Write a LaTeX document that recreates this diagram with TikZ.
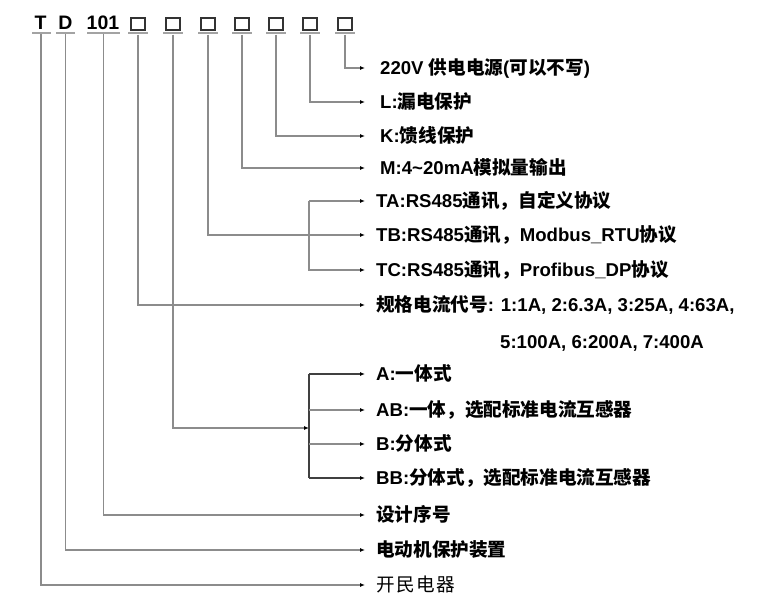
\documentclass[tikz,border=0pt]{standalone}
\usepackage{fontspec}
\setmainfont{Liberation Sans}
\newfontfamily\cjk{Noto Sans CJK SC}
\usetikzlibrary{arrows.meta}
\definecolor{linegray}{HTML}{8C8C8C}
\definecolor{darkline}{HTML}{404040}
\definecolor{boxgray}{HTML}{333333}
\newcommand\C[1]{{\cjk #1}}
\tikzset{
 conn/.style={draw=linegray, line width=1.1pt},
 arr/.style={conn, -{Latex[length=5pt,width=4pt,color=black]}},
 lbl/.style={anchor=west, inner ysep=0pt, inner xsep=11pt, text height=13pt, text depth=0pt, font=\bfseries\fontsize{18.6}{20}\selectfont},
 lblfar/.style={lbl, inner xsep=15pt},
 title/.style={anchor=base, inner sep=0pt, font=\bfseries\fontsize{19.5}{22}\selectfont},
 sq/.style={draw=boxgray, line width=1.8pt, minimum width=14.5pt, minimum height=11.5pt, inner sep=0pt},
 uline/.style={fill=linegray!80, inner sep=0pt, minimum height=2pt}
}
\begin{document}
\begin{tikzpicture}[x=1pt,y=-1pt]
\useasboundingbox (0,0) rectangle (763,609);
% header
\node[title] (tT) at (40.5,29.5) {T};
\node[title] (tD) at (65.5,29.5) {D};
\node[title] (t101) at (103,29.5) {101};
\node[uline, minimum width=19pt] (uT) at (41,33) {};
\node[uline, minimum width=19pt] (uD) at (65.5,33) {};
\node[uline, minimum width=33pt] (uL) at (103.5,33) {};
\foreach \i/\x in {1/138,2/173,3/208,4/242,5/276,6/310,7/345}{
  \node[sq] (b\i) at (\x,24) {};
  \node[uline, minimum width=20pt] (u\i) at (\x,33.5) {};
}
% labels
\node[lblfar] (r1) at (365,68) {220V \C{供电电源}(\C{可以不写})};
\node[lblfar] (r2) at (365,102) {L:\C{漏电保护}};
\node[lblfar] (r3) at (365,136) {K:\C{馈线保护}};
\node[lblfar] (r4) at (365,168) {M:4\textasciitilde 20mA\C{模拟量输出}};
\node[lbl] (r5) at (365,201) {TA:RS485\C{通讯，自定义协议}};
\node[lbl] (r6) at (365,235) {TB:RS485\C{通讯，}Modbus\_RTU\C{协议}};
\node[lbl] (r7) at (365,270) {TC:RS485\C{通讯，}Profibus\_DP\C{协议}};
\node[lbl] (r8) at (365,305) {\C{规格电流代号}: 1:1A, 2:6.3A, 3:25A, 4:63A,};
\node[lbl, inner xsep=0pt] (r8b) at (500,342) {5:100A, 6:200A, 7:400A};
\node[lbl] (r9) at (365,374) {A:\C{一体式}};
\node[lbl] (r10) at (365,410) {AB:\C{一体，选配标准电流互感器}};
\node[lbl] (r11) at (365,444) {B:\C{分体式}};
\node[lbl] (r12) at (365,478) {BB:\C{分体式，选配标准电流互感器}};
\node[lbl] (r13) at (365,515) {\C{设计序号}};
\node[lbl] (r14) at (365,550) {\C{电动机保护装置}};
\node[lbl, font=\mdseries\fontsize{18.6}{20}\selectfont] (r15) at (365,585) {\C{开\hspace{1.5pt}民\hspace{1.5pt}电\hspace{1.5pt}器}};
% connectors
\draw[arr] (u7.south) |- (r1.west);
\draw[arr] (u6.south) |- (r2.west);
\draw[arr] (u5.south) |- (r3.west);
\draw[arr] (u4.south) |- (r4.west);
\draw[arr] (u3.south) |- (r6.west);
\coordinate (bt) at (309,0);
\draw[arr] (r5.west -| bt) |- (r7.west);
\draw[arr] (r5.west -| bt) -- (r5.west);
\draw[arr] (u1.south) |- (r8.west);
\coordinate (ba) at (309,428);
\draw[arr] (u2.south) |- (ba);
\draw[conn, draw=darkline] (r9.west -| ba) -- (r12.west -| ba);
\draw[arr, draw=darkline] (r9.west -| ba) -- (r9.west);
\draw[arr] (r10.west -| ba) -- (r10.west);
\draw[arr] (r11.west -| ba) -- (r11.west);
\draw[arr, draw=darkline] (r12.west -| ba) -- (r12.west);
\draw[arr] (uL.south) |- (r13.west);
\draw[arr] (uD.south) |- (r14.west);
\draw[arr] (uT.south) |- (r15.west);
\end{tikzpicture}
\end{document}
